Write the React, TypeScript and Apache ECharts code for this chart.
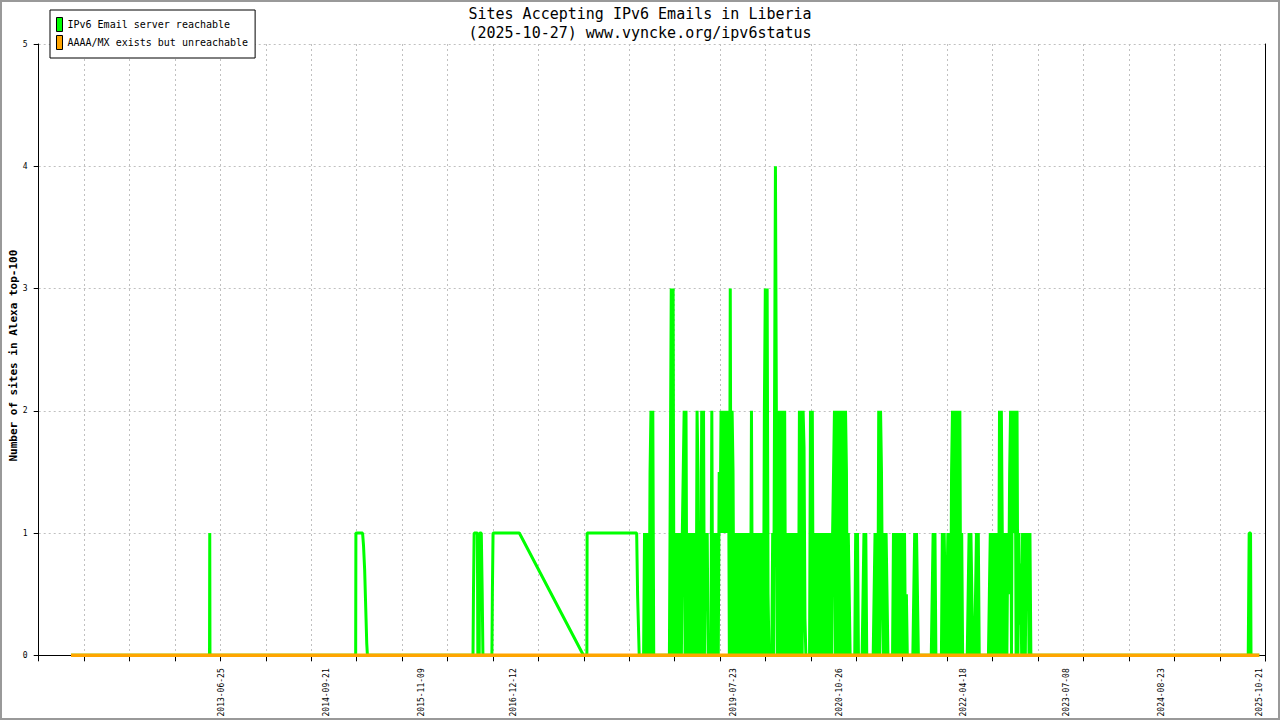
import React, { useEffect, useRef } from 'react';
import * as echarts from 'echarts';

const mono = 'DejaVu Sans Mono';

// x axis is counted in days from the left edge of the plot
const originDate = '2011-04-23';
const axisDays = 5321;
const gridSteps = 27;

const xLabelDates = [
  '2013-06-25', '2014-09-21', '2015-11-09', '2016-12-12', '2019-07-23',
  '2020-10-26', '2022-04-18', '2023-07-08', '2024-08-23', '2025-10-21',
];

const seriesNames = ['IPv6 Email server reachable', 'AAAA/MX exists but unreachable'];

// green series, sparse samples before the busy period
const earlyDates = [
  '2011-09-10', '2013-05-03', '2013-05-04', '2013-05-05',
  '2015-01-27', '2015-01-28', '2015-02-26', '2015-03-02', '2015-03-07', '2015-03-10',
  '2015-03-13', '2015-03-16', '2015-03-19',
  '2016-06-19', '2016-06-21', '2016-06-24', '2016-07-08', '2016-07-10', '2016-07-16',
  '2016-07-18', '2016-07-25', '2016-07-29', '2016-08-01',
  '2016-09-09', '2016-09-11', '2016-09-14', '2017-01-06', '2017-10-11',
  '2017-10-26', '2017-10-27', '2018-05-30', '2018-06-03', '2018-06-06', '2018-06-10',
];
const earlyValues = [
  0, 0, 1, 0,
  0, 1, 1, 0.9, 0.7, 0.5,
  0.3, 0.1, 0,
  0, 0.5, 1, 1, 0, 0,
  1, 1, 0.5, 0,
  0, 0.5, 1, 1, 0,
  0, 1, 1, 0.5, 0.5, 0,
];

// busy period: one sample every 4 days from burstStart
const burstStart = '2018-06-13';
const burstStepDays = 4;
const burstA = [
  0, 0, 0, 0, 0,
  1, 0, 1, 0, 1, 0, 1.5, 2, 0, 2, 0,
  0, 0, 0, 0, 0, 0, 0, 0, 0, 0, 0, 0, 0, 0, 0, 0, 0,
  1.5, 3, 0, 3, 0,
  1, 0, 1, 0, 1, 0, 1, 0, 1,
  1.5, 2, 0, 2, 0,
  1, 0, 1, 0, 1, 0, 1, 0, 1,
  0, 2, 1.5, 0, 1, 0, 2, 0, 2, 0, 1,
  0.5, 1, 0, 0, 0, 0,
  2, 0, 1, 0, 1, 0, 1, 0,
  1.5, 1, 2, 1, 2, 1, 2, 1, 2, 1, 2,
  0, 3, 0,
];
const burstB = [
  2, 1.5, 0,
  1, 0, 1, 0, 1, 0, 1, 0, 1, 0, 1, 0, 1, 0, 1, 0, 1, 0,
  2, 0, 1, 0, 1, 0, 1, 0,
  1, 0, 1, 0, 1, 0,
  2, 3, 0, 3, 0.5,
  0, 0, 0, 0,
  1, 0, 2, 4, 2, 0, 2, 1, 0,
  2, 0, 2, 0, 2, 0, 1, 0,
  1, 0, 1, 0, 1, 0, 1, 0, 1, 0, 1,
  0, 2, 0, 2, 0, 2, 1.7, 0.3,
  0, 0, 0, 0, 0,
  2, 0, 2, 0, 1, 0, 1, 0.5, 0, 1, 0, 0,
  1, 0, 1,
];
const burstC = [
  0, 1, 0, 1, 0, 1, 0, 1, 0, 1,
  1.5, 2, 0, 2, 1, 0, 2, 0, 2, 0, 1,
  2, 0, 2, 1.5, 0, 1, 0.5,
  0, 0, 0, 0, 0, 0,
  1, 0, 1, 0,
  0, 0, 0, 0,
  0.5, 1, 0, 1, 0,
  0, 0, 0, 0, 0, 0, 0,
  0.5, 1, 0, 1, 0,
  2, 0, 2, 1.5, 0.5, 0,
  1, 0, 1, 0.5, 0,
  0, 0, 0, 0, 0,
  1, 0, 1, 0, 1, 0, 1, 0, 1, 0, 1, 0, 1, 0, 0.5, 0,
  0, 0, 0, 0, 0, 0,
  0.5, 1, 0,
];
const burstD = [
  1, 0.5,
  0, 0, 0, 0, 0, 0, 0, 0, 0, 0, 0, 0, 0, 0, 0,
  0.5, 1, 0, 1, 0,
  0, 0, 0, 0, 0, 0,
  1, 0, 1, 0.5, 0,
  0.5, 1, 0, 1, 0, 1.5,
  2, 0, 2, 0, 2, 0, 2, 0, 2,
  0, 1, 0,
  0, 0, 0, 0, 0,
  0.5, 1, 0, 1, 0.5, 0,
  0, 0,
  0.5, 1, 0, 1, 0,
  0, 0, 0, 0, 0, 0, 0, 0, 0, 0,
  0.5, 1, 0, 1, 0, 1, 0,
  1, 0, 1, 0,
  2, 0, 2, 1, 0,
  1, 0, 1, 0, 1, 0.5,
  1.5, 2, 0, 2, 1,
  1.5, 2, 0, 2, 0, 1,
  0.25, 0.75, 0,
  1, 0, 1, 0, 1, 0.75, 1, 0, 1,
  0, 0,
];

// green series after the busy period
const lateDates = ['2025-09-03', '2025-09-05', '2025-09-07', '2025-09-13', '2025-09-15', '2025-10-21'];
const lateValues = [0, 0.5, 1, 1, 0, 0];

// orange series: flat at zero over the whole period
const orangeDates = ['2011-09-10', '2025-10-21'];
const orangeValues = [0, 0];

const dayOf = (d: string) => Date.parse(d) / 86400000;
const originDay = dayOf(originDate);
const toX = (d: string) => dayOf(d) - originDay;

function App() {
  const chartRef = useRef<HTMLDivElement>(null);

  useEffect(() => {
    if (!chartRef.current) return undefined;

    const burstValues = [...burstA, ...burstB, ...burstC, ...burstD];
    const burstX0 = toX(burstStart);
    const greenData = [
      ...earlyDates.map((d, i) => [toX(d), earlyValues[i]]),
      ...burstValues.map((v, i) => [burstX0 + i * burstStepDays, v]),
      ...lateDates.map((d, i) => [toX(d), lateValues[i]]),
    ];
    const orangeData = orangeDates.map((d, i) => [toX(d), orangeValues[i]]);

    const gridLine = { color: '#c0c0c0', width: 1, type: [2, 3] };

    const option = {
      animation: false,
      backgroundColor: '#ffffff',
      title: {
        text: 'Sites Accepting IPv6 Emails in Liberia\n(2025-10-27) www.vyncke.org/ipv6status',
        left: 'center',
        top: 4,
        padding: 0,
        textStyle: {
          fontFamily: mono,
          fontSize: 15,
          fontWeight: 'normal',
          color: '#000000',
          lineHeight: 19,
        },
      },
      legend: {
        orient: 'vertical',
        left: 50,
        top: 10,
        backgroundColor: '#ffffff',
        borderColor: '#000000',
        borderWidth: 1,
        padding: [7, 7, 8, 6],
        itemGap: 3,
        itemWidth: 6,
        itemHeight: 14,
        icon: 'rect',
        itemStyle: { borderColor: '#000000', borderWidth: 1 },
        textStyle: { fontFamily: mono, fontSize: 10, color: '#000000' },
        data: seriesNames,
      },
      grid: {
        left: 38.7,
        right: 14.7,
        top: 44,
        bottom: 64.7,
        containLabel: false,
        outerBoundsMode: 'none',
      },
      xAxis: {
        type: 'value',
        min: 0,
        max: axisDays,
        interval: axisDays / gridSteps,
        axisLine: { show: true, onZero: false, lineStyle: { color: '#000000', width: 1 } },
        axisTick: { show: true, length: 6, lineStyle: { color: '#000000' } },
        axisLabel: {
          customValues: xLabelDates.map(toX),
          rotate: 90,
          margin: 13,
          fontFamily: mono,
          fontSize: 8,
          color: '#000000',
          formatter: (v: number) =>
            new Date(Math.round(originDay + v) * 86400000).toISOString().slice(0, 10),
        },
        splitLine: { show: true, lineStyle: gridLine },
      },
      yAxis: [
        {
          type: 'value',
          position: 'left',
          min: 0,
          max: 5,
          interval: 1,
          name: 'Number of sites in Alexa top-100',
          nameLocation: 'middle',
          nameGap: 20,
          nameMoveOverlap: false,
          nameTextStyle: {
            fontFamily: mono,
            fontSize: 11,
            fontWeight: 'bold',
            color: '#000000',
            padding: [0, 12, 0, 0],
          },
          axisLine: { show: true, onZero: false, lineStyle: { color: '#000000', width: 1 } },
          axisTick: { show: true, length: 5, lineStyle: { color: '#000000' } },
          axisLabel: { fontFamily: mono, fontSize: 8, color: '#000000', margin: 11 },
          splitLine: { show: true, lineStyle: gridLine },
        },
        {
          type: 'value',
          position: 'right',
          min: 0,
          max: 5,
          interval: 1,
          axisLine: { show: true, onZero: false, lineStyle: { color: '#000000', width: 1 } },
          axisTick: { show: false },
          axisLabel: { show: false },
          splitLine: { show: false },
        },
      ],
      graphic: [
        {
          type: 'rect',
          silent: true,
          z: 100,
          shape: { x: 1, y: 1, width: 1278, height: 718 },
          style: { fill: 'none', stroke: '#999999', lineWidth: 2 },
        },
      ],
      series: [
        {
          name: seriesNames[0],
          type: 'line',
          data: greenData,
          symbol: 'none',
          showSymbol: false,
          color: '#00ff00',
          lineStyle: { width: 3, color: '#00ff00' },
          silent: true,
          z: 2,
        },
        {
          name: seriesNames[1],
          type: 'line',
          data: orangeData,
          symbol: 'none',
          showSymbol: false,
          color: '#ffa500',
          lineStyle: { width: 3.5, color: '#ffa500' },
          silent: true,
          z: 3,
        },
      ],
    };

    const myChart = echarts.init(chartRef.current, null, { renderer: 'svg' });
    myChart.setOption(option);

    return () => {
      myChart.dispose();
    };
  }, []);

  return (
    <div
      ref={chartRef}
      style={{
        position: 'fixed',
        left: 0,
        top: 0,
        width: '1280px',
        height: '720px',
        background: '#ffffff',
      }}
    />
  );
}

export default App;
